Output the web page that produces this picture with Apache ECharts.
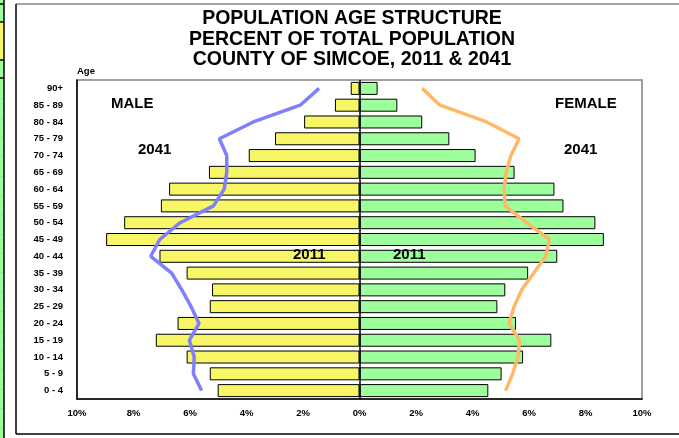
<!DOCTYPE html>
<html>
<head>
<meta charset="utf-8">
<script src="https://cdn.jsdelivr.net/npm/echarts@6/dist/echarts.min.js"></script>
<style>html,body{margin:0;padding:0;background:#fff;}#c{width:679px;height:438px;}</style>
</head>
<body>
<div id="c"></div>
<script>
const categories = ['0 - 4','5 - 9','10 - 14','15 - 19','20 - 24','25 - 29','30 - 34','35 - 39','40 - 44','45 - 49','50 - 54','55 - 59','60 - 64','65 - 69','70 - 74','75 - 79','80 - 84','85 - 89','90+'];
const male2011 = [5.02, 5.30, 6.12, 7.21, 6.44, 5.30, 5.22, 6.12, 7.08, 8.97, 8.33, 7.03, 6.74, 5.33, 3.92, 2.99, 1.96, 0.87, 0.31];
const female2011 = [4.56, 5.03, 5.79, 6.79, 5.54, 4.88, 5.16, 5.97, 7.00, 8.65, 8.35, 7.22, 6.90, 5.49, 4.11, 3.18, 2.22, 1.34, 0.64];
const male2041 = [5.59, 5.88, 5.85, 6.02, 5.68, 5.96, 6.29, 6.65, 7.39, 7.07, 6.35, 5.17, 4.79, 4.70, 4.70, 4.96, 3.76, 2.10, 1.43];
const female2041 = [5.17, 5.42, 5.61, 5.66, 5.29, 5.47, 5.74, 6.17, 6.59, 6.72, 5.92, 5.15, 5.12, 5.19, 5.36, 5.65, 4.50, 2.85, 2.22];
const titleLines = ['POPULATION AGE STRUCTURE', 'PERCENT OF TOTAL POPULATION', 'COUNTY OF SIMCOE, 2011 & 2041'];

const FONT = 'Liberation Sans, Arial, sans-serif';
const chart = echarts.init(document.getElementById('c'), null, {renderer: 'canvas'});

const graphics = [];
// left-edge strip
graphics.push({type:'rect', shape:{x:0,y:0,width:4,height:438}, style:{fill:'#9CFF9C'}, silent:true});
graphics.push({type:'rect', shape:{x:0,y:22,width:4,height:38}, style:{fill:'#F6F666'}, silent:true});
graphics.push({type:'line', shape:{x1:4,y1:0,x2:4,y2:438}, style:{stroke:'#000',lineWidth:1.5}, silent:true});
[4,22,60,78].forEach(y => graphics.push({type:'line', shape:{x1:0,y1:y,x2:4,y2:y}, style:{stroke:'#000',lineWidth:1.5}, silent:true}));
for (let i = 0; i < 18; i++) {
  const y = Math.round(98.3 + i * 19.35) + 0.5;
  graphics.push({type:'line', shape:{x1:1,y1:y,x2:3,y2:y}, style:{stroke:'#bbb',lineWidth:1}, silent:true});
}
// outer frame
graphics.push({type:'line', shape:{x1:16,y1:4,x2:679,y2:4}, style:{stroke:'#888',lineWidth:1.5}, silent:true});
graphics.push({type:'line', shape:{x1:16,y1:4,x2:16,y2:434}, style:{stroke:'#000',lineWidth:1.5}, silent:true});
graphics.push({type:'line', shape:{x1:16,y1:434,x2:679,y2:434}, style:{stroke:'#000',lineWidth:1.5}, silent:true});
// title
titleLines.forEach((t, i) => graphics.push({type:'text', x:352, y:19 + i*20.5, style:{text:t, fill:'#000', font:'bold 19.5px ' + FONT, textAlign:'center', textVerticalAlign:'middle'}}));
// annotations
const ann = [
  ['Age', 77, 71, 9.5, 'left'],
  ['MALE', 111, 104, 15, 'left'],
  ['FEMALE', 555, 104, 15, 'left'],
  ['2041', 138, 150, 15, 'left'],
  ['2041', 564, 150, 15, 'left'],
  ['2011', 293, 255, 15, 'left'],
  ['2011', 393, 255, 15, 'left']
];
ann.forEach(a => graphics.push({type:'text', x:a[1], y:a[2], z:10, style:{text:a[0], fill:'#000', font:'bold ' + a[3] + 'px ' + FONT, textAlign:a[4], textVerticalAlign:'middle'}}));

const option = {
  animation: false,
  backgroundColor: '#fff',
  grid: {left: 77, right: 37, top: 80, bottom: 39, show: true, borderColor: '#808080', borderWidth: 1.5, containLabel: false},
  xAxis: {
    type: 'value', min: -10, max: 10, interval: 2,
    axisLine: {show: true, onZero: false, lineStyle: {color: '#000', width: 1.5}},
    axisTick: {show: false},
    splitLine: {show: false},
    axisLabel: {formatter: v => Math.abs(v) + '%', fontFamily: FONT, fontWeight: 'bold', fontSize: 9.5, color: '#000', margin: 9}
  },
  yAxis: {
    type: 'category', data: categories,
    axisLine: {show: true, onZero: false, lineStyle: {color: '#000', width: 1.5}},
    axisTick: {show: false},
    axisLabel: {fontFamily: FONT, fontWeight: 'bold', fontSize: 9.5, color: '#000', margin: 14}
  },
  series: [
    {
      name: 'Male 2011', type: 'bar', stack: 'pop', barWidth: 13,
      data: male2011.map(v => -v),
      itemStyle: {color: '#F6F666', borderColor: '#000', borderWidth: 1}
    },
    {
      name: 'Female 2011', type: 'bar', stack: 'pop', barWidth: 13,
      data: female2011,
      itemStyle: {color: '#9CFF9C', borderColor: '#000', borderWidth: 1},
      markLine: {silent: true, symbol: 'none', label: {show: false}, lineStyle: {color: '#000', width: 1.5, type: 'solid'}, data: [{xAxis: 0}]}
    },
    {
      name: 'Male 2041', type: 'line', showSymbol: false, symbol: 'none', z: 5,
      data: male2041.map((v, i) => [-v, categories[i]]),
      lineStyle: {color: '#7F7FFF', width: 3.5}
    },
    {
      name: 'Female 2041', type: 'line', showSymbol: false, symbol: 'none', z: 5,
      data: female2041.map((v, i) => [v, categories[i]]),
      lineStyle: {color: '#FFB866', width: 3.5}
    }
  ],
  graphic: graphics
};
chart.setOption(option);
</script>
</body>
</html>
